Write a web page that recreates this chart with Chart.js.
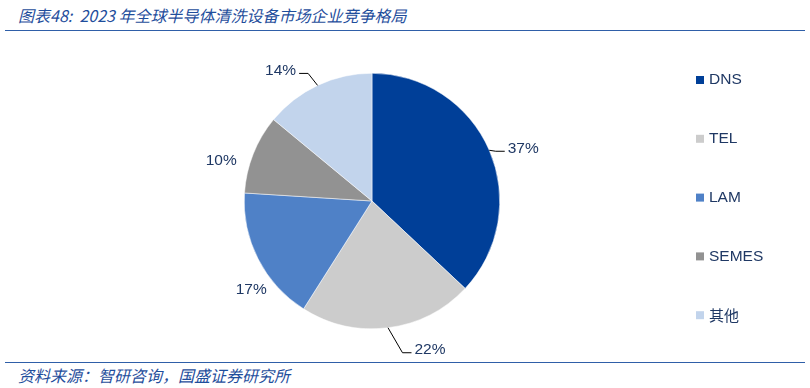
<!DOCTYPE html>
<html lang="zh">
<head>
<meta charset="UTF-8">
<title>2023 年全球半导体清洗设备市场企业竞争格局</title>
<script src="https://cdn.jsdelivr.net/npm/chart.js@4.4.1/dist/chart.umd.min.js"></script>
<style>
    body { margin: 0; width: 810px; height: 388px; background: #fff; position: relative; overflow: hidden; }
    .title { position: absolute; left: 18px; top: 3px; font: italic 16px "Noto Sans CJK SC", sans-serif; color: #1f4e9c; white-space: nowrap; }
    .rule { position: absolute; left: 5px; width: 800px; height: 0; border-top: 1.5px solid #2f5fa8; }
    .source { position: absolute; left: 18px; top: 365px; font: italic 16px "Noto Sans CJK SC", sans-serif; color: #1f4e9c; white-space: nowrap; line-height: 20px; }
    #wrap { position: absolute; left: 0; top: 0; width: 810px; height: 388px; }
</style>
</head>
<body>
<div class="title">图表48:&nbsp; 2023 年全球半导体清洗设备市场企业竞争格局</div>
<div class="rule" style="top:30px"></div>
<div class="rule" style="top:362px"></div>
<div class="source">资料来源：智研咨询，国盛证券研究所</div>
<div id="wrap"><canvas id="pieChart"></canvas></div>

<script>
// chart data
const companies = ['DNS', 'TEL', 'LAM', 'SEMES', '其他'];
const shares = [37, 22, 17, 10, 14];
const sliceColors = ['#003f98', '#cccccc', '#4f81c7', '#929292', '#c2d4ec'];

// label placement relative to the slice edge point (dx, dy of the text centre), leader line or not
const labelStyle = [
    { dx: 34, dy: -2, leader: true },
    { dx: 42, dy: 22, leader: true },
    { dx: -7, dy: 31, leader: false },
    { dx: -32, dy: 7, leader: false },
    { dx: -37, dy: -15, leader: true }
];

const textColor = '#1f3864';
const labelFont = '15.5px "Liberation Sans", sans-serif';

// percent labels outside the pie
const outsideLabels = {
    id: 'outsideLabels',
    afterDatasetsDraw(chart) {
        const ctx = chart.ctx;
        const meta = chart.getDatasetMeta(0);
        ctx.save();
        ctx.font = labelFont;
        ctx.textBaseline = 'middle';
        ctx.textAlign = 'center';
        meta.data.forEach((arc, i) => {
            const p = arc.getProps(['x', 'y', 'startAngle', 'endAngle', 'outerRadius'], true);
            const mid = (p.startAngle + p.endAngle) / 2;
            const ex = p.x + Math.cos(mid) * p.outerRadius;
            const ey = p.y + Math.sin(mid) * p.outerRadius;
            const st = labelStyle[i];
            const tx = ex + st.dx;
            const ty = ey + st.dy;
            const txt = shares[i] + '%';
            const half = ctx.measureText(txt).width / 2;
            if (st.leader) {
                const side = st.dx > 0 ? -1 : 1;
                const edgeX = tx + side * half;
                ctx.strokeStyle = '#000';
                ctx.lineWidth = 1;
                ctx.beginPath();
                ctx.moveTo(ex, ey);
                ctx.lineTo(edgeX + side * 12, ty + 3);
                ctx.lineTo(edgeX + side * 3, ty + 3);
                ctx.stroke();
            }
            ctx.fillStyle = textColor;
            ctx.fillText(txt, tx, ty);
        });
        ctx.restore();
    }
};

// legend column on the right
const sideLegend = {
    id: 'sideLegend',
    afterDraw(chart) {
        const ctx = chart.ctx;
        const colors = chart.data.datasets[0].backgroundColor;
        ctx.save();
        ctx.textBaseline = 'middle';
        ctx.textAlign = 'left';
        chart.data.labels.forEach((name, i) => {
            const y = 80 + i * 58.8;
            ctx.fillStyle = colors[i];
            ctx.fillRect(696, y - 4, 8, 8);
            ctx.fillStyle = textColor;
            ctx.font = /[\u4e00-\u9fff]/.test(name) ? '15px "Noto Sans CJK SC", sans-serif' : '15.5px "Liberation Sans", sans-serif';
            ctx.fillText(name, 709, y);
        });
        ctx.restore();
    }
};

const ctx = document.getElementById('pieChart').getContext('2d');
const pieChart = new Chart(ctx, {
    type: 'pie',
    data: {
        labels: companies,
        datasets: [{
            data: shares,
            backgroundColor: sliceColors,
            borderColor: '#ffffff',
            borderWidth: 0.5
        }]
    },
    options: {
        responsive: true,
        maintainAspectRatio: false,
        animation: false,
        layout: { padding: { left: 244, right: 310, top: 73, bottom: 59 } },
        plugins: {
            legend: { display: false },
            tooltip: { enabled: false }
        }
    },
    plugins: [outsideLabels, sideLegend]
});
</script>
</body>
</html>
